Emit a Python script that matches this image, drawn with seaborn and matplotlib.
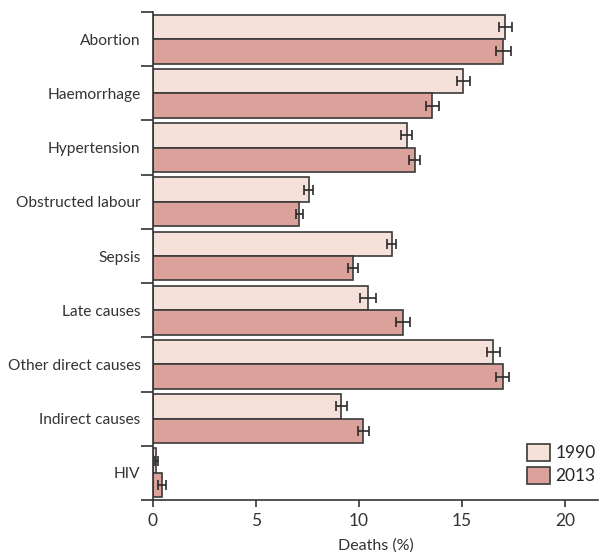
import numpy as np
import pandas as pd
import seaborn as sns
from matplotlib import pyplot as plt
from matplotlib.ticker import FixedLocator

causes = [
    "Abortion",
    "Haemorrhage",
    "Hypertension",
    "Obstructed labour",
    "Sepsis",
    "Late causes",
    "Other direct causes",
    "Indirect causes",
    "HIV",
]
deaths_1990 = [17.1, 15.06, 12.3, 7.55, 11.58, 10.44, 16.52, 9.14, 0.15]
deaths_2013 = [17.0, 13.56, 12.7, 7.1, 9.69, 12.15, 16.96, 10.21, 0.44]
err_1990 = [0.30, 0.30, 0.25, 0.22, 0.23, 0.40, 0.30, 0.26, 0.07]
err_2013 = [0.35, 0.30, 0.27, 0.16, 0.24, 0.34, 0.32, 0.28, 0.18]
years = ["1990", "2013"]
colours = {"1990": "#f6e0da", "2013": "#dba19b"}

df = pd.concat(
    [
        pd.DataFrame({"cause": causes, "year": "1990", "deaths": deaths_1990, "err": err_1990}),
        pd.DataFrame({"cause": causes, "year": "2013", "deaths": deaths_2013, "err": err_2013}),
    ],
    ignore_index=True,
)

sns.set_style("ticks")
plt.rcParams["font.family"] = ["Lato", "DejaVu Sans"]
edge = "#3a3a3a"
ink = "#333333"

fig = plt.figure(figsize=(6, 5.56), dpi=100)
ax = fig.add_axes([0.255, 0.1007, 0.742, 0.8777])
sns.barplot(
    data=df,
    x="deaths",
    y="cause",
    hue="year",
    hue_order=years,
    order=causes,
    palette=colours,
    saturation=1,
    width=0.9,
    errorbar=None,
    edgecolor=edge,
    linewidth=1.2,
    ax=ax,
)

# error bars placed on the drawn bars
for container, year in zip(ax.containers, years):
    sub = df[df["year"] == year].set_index("cause").loc[causes]
    ys = [p.get_y() + p.get_height() / 2 for p in container.patches]
    ax.errorbar(
        sub["deaths"].values,
        ys,
        xerr=sub["err"].values,
        fmt="none",
        ecolor="#2a2a2a",
        elinewidth=1.2,
        capsize=3.5,
        capthick=1.2,
    )

ax.set_xlim(0, 21.6)
ax.set_ylim(len(causes) - 0.5, -0.5)
ax.set_xticks([0, 5, 10, 15, 20])
ax.tick_params(axis="x", labelsize=12.5, colors=ink, length=5, width=1.2, pad=4)
ax.tick_params(axis="y", which="major", length=0, labelsize=11.2, colors=ink, pad=9)
ax.yaxis.set_minor_locator(FixedLocator(np.arange(-0.5, len(causes), 1.0)))
ax.tick_params(axis="y", which="minor", length=9, width=1.2, color=ink)

sns.despine(ax=ax)
for side in ["left", "bottom"]:
    ax.spines[side].set_color(ink)
    ax.spines[side].set_linewidth(1.2)

ax.set_xlabel("Deaths (%)", fontsize=11.5, color=ink, labelpad=7)
ax.set_ylabel("")

ax.legend(
    loc="lower right",
    bbox_to_anchor=(1.03, 0.0),
    frameon=False,
    fontsize=12.5,
    handlelength=1.3,
    handleheight=1.1,
    handletextpad=0.35,
    labelspacing=0.35,
)

fig.savefig("out.png", dpi=100)
